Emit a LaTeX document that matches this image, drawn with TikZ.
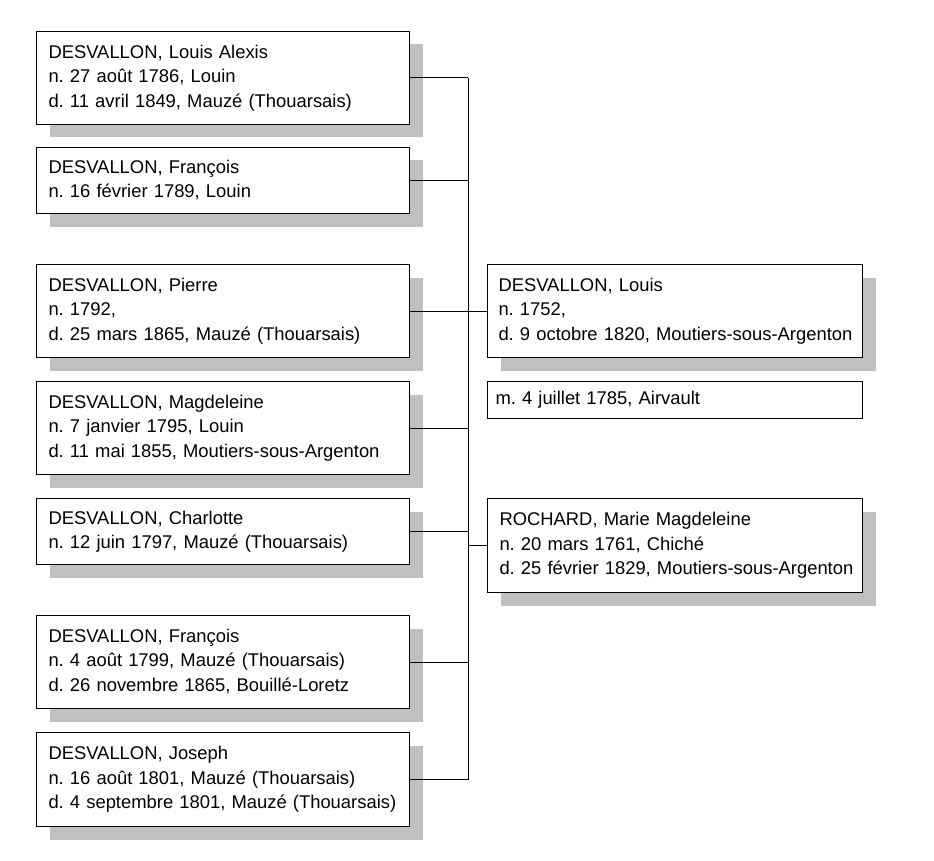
\documentclass[tikz,border=0pt]{standalone}
\usepackage{fontspec}
\setmainfont{Liberation Sans}
\usetikzlibrary{shadows}
\definecolor{shadowgray}{RGB}{192,192,192}
\newcommand{\lines}[1]{\begin{tabular}{@{}l@{}}#1\end{tabular}}
\tikzset{
  person/.style={draw=black, line width=1pt, fill=white, rectangle, anchor=north west,
    inner xsep=12pt, inner ysep=0pt, align=left,
    font=\fontsize{18.4pt}{24.5pt}\selectfont\frenchspacing,
    general shadow={fill=shadowgray, shadow xshift=13pt, shadow yshift=-13pt}},
  marbox/.style={draw=black, line width=1pt, fill=white, rectangle, anchor=north west,
    inner xsep=8pt, inner ysep=0pt, align=left,
    font=\fontsize{18.4pt}{24.5pt}\selectfont\frenchspacing},
  link/.style={draw=black, line width=1pt}
}
\begin{document}
\frenchspacing
\begin{tikzpicture}[x=1pt,y=1pt]
\useasboundingbox (0,0) rectangle (934,-861);
% children
\node[person, text width=349pt, minimum height=93pt] (c1) at (36,-31)
  {\lines{DESVALLON, Louis Alexis\\n. 27 août 1786, Louin\\d. 11 avril 1849, Mauzé (Thouarsais)}};
\node[person, text width=349pt, minimum height=66pt] (c2) at (36,-147)
  {\lines{DESVALLON, François\\n. 16 février 1789, Louin}};
\node[person, text width=349pt, minimum height=93pt] (c3) at (36,-264)
  {\lines{DESVALLON, Pierre\\n. 1792,\\d. 25 mars 1865, Mauzé (Thouarsais)}};
\node[person, text width=349pt, minimum height=93pt] (c4) at (36,-381)
  {\lines{DESVALLON, Magdeleine\\n. 7 janvier 1795, Louin\\d. 11 mai 1855, Moutiers-sous-Argenton}};
\node[person, text width=349pt, minimum height=66pt] (c5) at (36,-498)
  {\lines{DESVALLON, Charlotte\\n. 12 juin 1797, Mauzé (Thouarsais)}};
\node[person, text width=349pt, minimum height=93pt] (c6) at (36,-615)
  {\lines{DESVALLON, François\\n. 4 août 1799, Mauzé (Thouarsais)\\d. 26 novembre 1865, Bouillé-Loretz}};
\node[person, text width=349pt, minimum height=94pt] (c7) at (36,-732)
  {\lines{DESVALLON, Joseph\\n. 16 août 1801, Mauzé (Thouarsais)\\d. 4 septembre 1801, Mauzé (Thouarsais)}};
% parents
\node[person, inner xsep=11pt, text width=353pt, minimum height=93pt] (father) at (487,-264)
  {\lines{DESVALLON, Louis\\n. 1752,\\d. 9 octobre 1820, Moutiers-sous-Argenton}};
\node[marbox, text width=359pt, minimum height=37pt] (marriage) at (487,-381)
  {\lines{m. 4 juillet 1785, Airvault}};
\node[person, inner xsep=12pt, text width=351pt, minimum height=94pt] (mother) at (487,-498)
  {\lines{ROCHARD, Marie Magdeleine\\n. 20 mars 1761, Chiché\\d. 25 février 1829, Moutiers-sous-Argenton}};
% connectors
\coordinate (sp) at (468,0);
\foreach \c in {c1,c2,c3,c4,c5,c6,c7}{
  \draw[link] (\c.east) -- (\c.east -| sp);
}
\draw[link] (c1.east -| sp) -- (c7.east -| sp);
\draw[link] (c3.east -| sp) -- (father.west);
\draw[link] (mother.west) -- (mother.west -| sp);
\end{tikzpicture}
\end{document}
